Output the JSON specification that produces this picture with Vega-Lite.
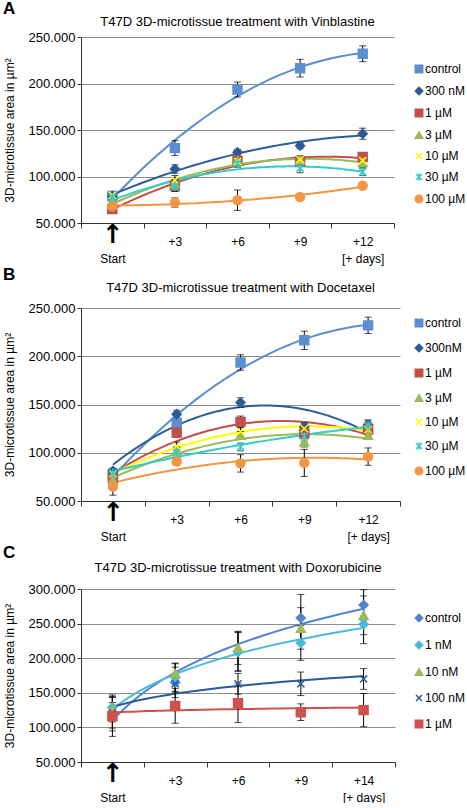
{
  "$schema": "https://vega.github.io/schema/vega-lite/v6.json",
  "padding": {"left": 3, "top": 0, "right": 0, "bottom": 0},
  "spacing": 2,
  "resolve": {"scale": {"fill": "independent", "stroke": "independent", "shape": "independent", "color": "independent"}, "legend": {"fill": "independent", "stroke": "independent", "shape": "independent", "color": "independent"}},
  "config": {
    "font": "Liberation Sans",
    "view": {"stroke": null},
    "axisY": {"grid": true, "gridColor": "#8c8c8c", "domainColor": "#333", "tickColor": "#333", "tickSize": 4, "labelFontSize": 13, "labelColor": "black", "labelPadding": 2, "labelFlush": false, "labelOverlap": false, "titleFontSize": 12, "titleFontWeight": "normal", "titleColor": "black", "titlePadding": 12},
    "legend": {"labelFont": "Liberation Sans", "labelFontSize": 12, "labelColor": "black", "symbolStrokeWidth": 1.5, "symbolSize": 55, "labelOffset": 0}
  },
  "datasets": {
    "A": [
      {"x": 1, "series": "control", "y": 79000, "lo": 74000, "hi": 84000},
      {"x": 2, "series": "control", "y": 130500, "lo": 122500, "hi": 138500},
      {"x": 3, "series": "control", "y": 193500, "lo": 185500, "hi": 201500},
      {"x": 4, "series": "control", "y": 216500, "lo": 207000, "hi": 226000},
      {"x": 5, "series": "control", "y": 232000, "lo": 223500, "hi": 240500},
      {"x": 1, "series": "300 nM", "y": 79000, "lo": 75000, "hi": 83000},
      {"x": 2, "series": "300 nM", "y": 108000, "lo": 103500, "hi": 112500},
      {"x": 3, "series": "300 nM", "y": 126000, "lo": 123000, "hi": 129000},
      {"x": 4, "series": "300 nM", "y": 133000, "lo": 130000, "hi": 136000},
      {"x": 5, "series": "300 nM", "y": 146000, "lo": 140000, "hi": 152000},
      {"x": 1, "series": "1 µM", "y": 65000, "lo": 62000, "hi": 68000},
      {"x": 2, "series": "1 µM", "y": 90000, "lo": 84000, "hi": 96000},
      {"x": 3, "series": "1 µM", "y": 117000, "lo": 113000, "hi": 121000},
      {"x": 4, "series": "1 µM", "y": 116000, "lo": 112000, "hi": 120000},
      {"x": 5, "series": "1 µM", "y": 121000, "lo": 117000, "hi": 125000},
      {"x": 1, "series": "3 µM", "y": 72000, "lo": 68000, "hi": 76000},
      {"x": 2, "series": "3 µM", "y": 92000, "lo": 87000, "hi": 97000},
      {"x": 3, "series": "3 µM", "y": 117000, "lo": 113000, "hi": 121000},
      {"x": 4, "series": "3 µM", "y": 118000, "lo": 114000, "hi": 122000},
      {"x": 5, "series": "3 µM", "y": 115000, "lo": 110000, "hi": 120000},
      {"x": 1, "series": "10 µM", "y": 80000, "lo": 76000, "hi": 84000},
      {"x": 2, "series": "10 µM", "y": 96000, "lo": 91000, "hi": 101000},
      {"x": 3, "series": "10 µM", "y": 116000, "lo": 112000, "hi": 120000},
      {"x": 4, "series": "10 µM", "y": 118000, "lo": 114000, "hi": 122000},
      {"x": 5, "series": "10 µM", "y": 117000, "lo": 112000, "hi": 122000},
      {"x": 1, "series": "30 µM", "y": 77000, "lo": 73000, "hi": 81000},
      {"x": 2, "series": "30 µM", "y": 89000, "lo": 84000, "hi": 94000},
      {"x": 3, "series": "30 µM", "y": 114000, "lo": 110000, "hi": 118000},
      {"x": 4, "series": "30 µM", "y": 109000, "lo": 104000, "hi": 114000},
      {"x": 5, "series": "30 µM", "y": 105000, "lo": 101000, "hi": 109000},
      {"x": 1, "series": "100 µM", "y": 68000, "lo": 64000, "hi": 72000},
      {"x": 2, "series": "100 µM", "y": 72000, "lo": 67000, "hi": 77000},
      {"x": 3, "series": "100 µM", "y": 74500, "lo": 63500, "hi": 85500},
      {"x": 4, "series": "100 µM", "y": 78000, "lo": 75000, "hi": 81000},
      {"x": 5, "series": "100 µM", "y": 90000, "lo": 88000, "hi": 92000}
    ],
    "B": [
      {"x": 1, "series": "control", "y": 78000, "lo": 73000, "hi": 83000},
      {"x": 2, "series": "control", "y": 131000, "lo": 123000, "hi": 139000},
      {"x": 3, "series": "control", "y": 193500, "lo": 185500, "hi": 201500},
      {"x": 4, "series": "control", "y": 216500, "lo": 207000, "hi": 226000},
      {"x": 5, "series": "control", "y": 232000, "lo": 223500, "hi": 240500},
      {"x": 1, "series": "300nM", "y": 81000, "lo": 78000, "hi": 84000},
      {"x": 2, "series": "300nM", "y": 140000, "lo": 136000, "hi": 144000},
      {"x": 3, "series": "300nM", "y": 152000, "lo": 147000, "hi": 157000},
      {"x": 4, "series": "300nM", "y": 127000, "lo": 123000, "hi": 131000},
      {"x": 5, "series": "300nM", "y": 129000, "lo": 124000, "hi": 134000},
      {"x": 1, "series": "1 µM", "y": 74000, "lo": 70000, "hi": 78000},
      {"x": 2, "series": "1 µM", "y": 121000, "lo": 116000, "hi": 126000},
      {"x": 3, "series": "1 µM", "y": 132000, "lo": 126000, "hi": 138000},
      {"x": 4, "series": "1 µM", "y": 120000, "lo": 115000, "hi": 125000},
      {"x": 5, "series": "1 µM", "y": 124000, "lo": 119000, "hi": 129000},
      {"x": 1, "series": "3 µM", "y": 72000, "lo": 68000, "hi": 76000},
      {"x": 2, "series": "3 µM", "y": 102000, "lo": 98000, "hi": 106000},
      {"x": 3, "series": "3 µM", "y": 118000, "lo": 114000, "hi": 122000},
      {"x": 4, "series": "3 µM", "y": 111000, "lo": 106000, "hi": 116000},
      {"x": 5, "series": "3 µM", "y": 118000, "lo": 114000, "hi": 122000},
      {"x": 1, "series": "10 µM", "y": 78000, "lo": 74000, "hi": 82000},
      {"x": 2, "series": "10 µM", "y": 107000, "lo": 103000, "hi": 111000},
      {"x": 3, "series": "10 µM", "y": 122000, "lo": 118000, "hi": 126000},
      {"x": 4, "series": "10 µM", "y": 125000, "lo": 120000, "hi": 130000},
      {"x": 5, "series": "10 µM", "y": 124000, "lo": 120000, "hi": 128000},
      {"x": 1, "series": "30 µM", "y": 79000, "lo": 75000, "hi": 83000},
      {"x": 2, "series": "30 µM", "y": 100000, "lo": 95000, "hi": 105000},
      {"x": 3, "series": "30 µM", "y": 106000, "lo": 102000, "hi": 110000},
      {"x": 4, "series": "30 µM", "y": 117000, "lo": 112000, "hi": 122000},
      {"x": 5, "series": "30 µM", "y": 128000, "lo": 123000, "hi": 133000},
      {"x": 1, "series": "100 µM", "y": 65000, "lo": 56000, "hi": 74000},
      {"x": 2, "series": "100 µM", "y": 91000, "lo": 87000, "hi": 95000},
      {"x": 3, "series": "100 µM", "y": 89000, "lo": 80000, "hi": 98000},
      {"x": 4, "series": "100 µM", "y": 89500, "lo": 75500, "hi": 103500},
      {"x": 5, "series": "100 µM", "y": 96000, "lo": 87000, "hi": 105000}
    ],
    "C": [
      {"x": 1, "series": "control", "y": 120000, "lo": 95000, "hi": 145000},
      {"x": 2, "series": "control", "y": 165000, "lo": 143000, "hi": 187000},
      {"x": 3, "series": "control", "y": 210000, "lo": 182000, "hi": 238000},
      {"x": 4, "series": "control", "y": 258000, "lo": 224000, "hi": 292000},
      {"x": 5, "series": "control", "y": 277000, "lo": 255000, "hi": 299000},
      {"x": 1, "series": "1 nM", "y": 129000, "lo": 111000, "hi": 147000},
      {"x": 2, "series": "1 nM", "y": 172000, "lo": 152000, "hi": 192000},
      {"x": 3, "series": "1 nM", "y": 209000, "lo": 181000, "hi": 237000},
      {"x": 4, "series": "1 nM", "y": 222000, "lo": 197000, "hi": 247000},
      {"x": 5, "series": "1 nM", "y": 249000, "lo": 221000, "hi": 277000},
      {"x": 1, "series": "10 nM", "y": 126000, "lo": 108000, "hi": 144000},
      {"x": 2, "series": "10 nM", "y": 178000, "lo": 163000, "hi": 193000},
      {"x": 3, "series": "10 nM", "y": 215000, "lo": 191000, "hi": 239000},
      {"x": 4, "series": "10 nM", "y": 243000, "lo": 213000, "hi": 273000},
      {"x": 5, "series": "10 nM", "y": 262000, "lo": 234000, "hi": 290000},
      {"x": 1, "series": "100 nM", "y": 121000, "lo": 99000, "hi": 143000},
      {"x": 2, "series": "100 nM", "y": 163000, "lo": 151000, "hi": 175000},
      {"x": 3, "series": "100 nM", "y": 163000, "lo": 148000, "hi": 178000},
      {"x": 4, "series": "100 nM", "y": 163000, "lo": 146000, "hi": 180000},
      {"x": 5, "series": "100 nM", "y": 170000, "lo": 155000, "hi": 185000},
      {"x": 1, "series": "1 µM", "y": 116000, "lo": 87000, "hi": 136000},
      {"x": 2, "series": "1 µM", "y": 131000, "lo": 106000, "hi": 156000},
      {"x": 3, "series": "1 µM", "y": 135000, "lo": 107000, "hi": 163000},
      {"x": 4, "series": "1 µM", "y": 122000, "lo": 110000, "hi": 134000},
      {"x": 5, "series": "1 µM", "y": 125000, "lo": 101000, "hi": 149000}
    ]
  },
  "vconcat": [
    {
      "title": {"text": "A", "anchor": "start", "frame": "bounds", "fontSize": 17, "fontWeight": "bold", "offset": -2},
      "resolve": {"scale": {"fill": "independent", "stroke": "independent", "shape": "independent", "color": "independent"}, "legend": {"fill": "independent", "stroke": "independent", "shape": "independent", "color": "independent"}},
      "vconcat": [
        {
          "width": 313, "height": 186,
          "title": {"text": "T47D 3D-microtissue treatment with Vinblastine", "fontSize": 13, "fontWeight": "normal", "offset": 2},
          "data": {"name": "A"},
          "resolve": {"axis": {"x": "independent"}},
          "layer": [
            {
              "transform": [{"filter": "datum.series != '10 µM'"}, {"regression": "y", "on": "x", "groupby": ["series"], "method": "poly", "order": 2}],
              "mark": {"type": "line", "strokeWidth": 2},
              "encoding": {
                "x": {"field": "x", "type": "quantitative", "scale": {"domain": [0.5, 5.5], "nice": false, "zero": false},
                  "axis": {"orient": "bottom", "values": [0.5, 1.5, 2.5, 3.5, 4.5, 5.5], "labels": false, "ticks": true, "tickSize": 5, "tickColor": "#333", "domain": true, "domainColor": "#333", "grid": false, "title": null}},
                "y": {"field": "y", "type": "quantitative", "scale": {"domain": [50000, 250000], "nice": false, "zero": false},
                  "axis": {"values": [50000, 100000, 150000, 200000, 250000], "labelExpr": "replace(format(datum.value, ','), ',', '.')", "title": "3D-microtissue area in µm²"}},
                "color": {"field": "series", "type": "nominal", "legend": null,
                  "scale": {"domain": ["100 µM", "30 µM", "10 µM", "3 µM", "1 µM", "300 nM", "control"], "range": ["#F39644", "#33CCCC", "#FFFF00", "#9BBB59", "#C0504D", "#2B5C97", "#5B8FD1"]}}
              }
            },
            {
              "mark": {"type": "rule", "color": "black", "strokeWidth": 1},
              "encoding": {
                "x": {"field": "x", "type": "quantitative",
                  "axis": {"orient": "bottom", "values": [1, 2, 3, 4, 5], "ticks": false, "domain": false, "grid": false, "title": null, "labelExpr": "datum.value == 1 ? ['', 'Start'] : datum.value == 2 ? '+3' : datum.value == 3 ? '+6' : datum.value == 4 ? '+9' : ['+12', '[+ days]']", "labelFontSize": 12, "labelLineHeight": 17, "labelPadding": 13, "labelOverlap": false, "labelFlush": false, "labelColor": "black"}},
                "y": {"field": "lo", "type": "quantitative", "axis": {"values": [50000, 100000, 150000, 200000, 250000], "labelExpr": "replace(format(datum.value, ','), ',', '.')", "title": "3D-microtissue area in µm²"}},
                "y2": {"field": "hi"}
              }
            },
            {
              "mark": {"type": "tick", "color": "black", "orient": "horizontal", "size": 7, "thickness": 1},
              "encoding": {"x": {"field": "x", "type": "quantitative", "axis": null}, "y": {"field": "lo", "type": "quantitative", "axis": {"values": [50000, 100000, 150000, 200000, 250000], "labelExpr": "replace(format(datum.value, ','), ',', '.')", "title": "3D-microtissue area in µm²"}}}
            },
            {
              "mark": {"type": "tick", "color": "black", "orient": "horizontal", "size": 7, "thickness": 1},
              "encoding": {"x": {"field": "x", "type": "quantitative", "axis": null}, "y": {"field": "hi", "type": "quantitative", "axis": {"values": [50000, 100000, 150000, 200000, 250000], "labelExpr": "replace(format(datum.value, ','), ',', '.')", "title": "3D-microtissue area in µm²"}}}
            },
            {
              "mark": {"type": "point", "filled": true, "opacity": 1, "strokeWidth": 1.5, "size": 80},
              "encoding": {
                "x": {"field": "x", "type": "quantitative",
                  "axis": {"orient": "bottom", "values": [1], "labelExpr": "'↑'", "ticks": false, "domain": false, "grid": false, "title": null, "labelFontSize": 26, "labelFont": "DejaVu Sans", "labelFontWeight": "bold", "labelPadding": -2, "labelColor": "black", "labelFlush": false}},
                "y": {"field": "y", "type": "quantitative", "axis": {"values": [50000, 100000, 150000, 200000, 250000], "labelExpr": "replace(format(datum.value, ','), ',', '.')", "title": "3D-microtissue area in µm²"}},
                "fill": {"field": "series", "type": "nominal",
                  "scale": {"domain": ["control", "300 nM", "1 µM", "3 µM", "10 µM", "30 µM", "100 µM"], "range": ["#5B8FD1", "#2B5C97", "#C0504D", "#9BBB59", "#FFFF00", "#33CCCC", "#F39644"]},
                  "legend": {"orient": "none", "legendX": 332, "legendY": 26, "title": null, "rowPadding": 8}},
                "stroke": {"field": "series", "type": "nominal",
                  "scale": {"domain": ["control", "300 nM", "1 µM", "3 µM", "10 µM", "30 µM", "100 µM"], "range": ["#5B8FD1", "#2B5C97", "#C0504D", "#9BBB59", "#FFFF00", "#33CCCC", "#F39644"]},
                  "legend": {"orient": "none", "legendX": 332, "legendY": 26, "title": null, "rowPadding": 8}},
                "shape": {"field": "series", "type": "nominal",
                  "scale": {"domain": ["control", "300 nM", "1 µM", "3 µM", "10 µM", "30 µM", "100 µM"], "range": ["square", "diamond", "square", "triangle-up", "M-0.8,-0.8L0.8,0.8M-0.8,0.8L0.8,-0.8", "M-0.8,-0.8L0.8,0.8M-0.8,0.8L0.8,-0.8M0,-1L0,1", "circle"]},
                  "legend": {"orient": "none", "legendX": 332, "legendY": 26, "title": null, "rowPadding": 8}}
              }
            }
          ]
        }
      ]
    },
    {
      "title": {"text": "B", "anchor": "start", "frame": "bounds", "fontSize": 17, "fontWeight": "bold", "offset": -2},
      "resolve": {"scale": {"fill": "independent", "stroke": "independent", "shape": "independent", "color": "independent"}, "legend": {"fill": "independent", "stroke": "independent", "shape": "independent", "color": "independent"}},
      "vconcat": [
        {
          "width": 319, "height": 193,
          "title": {"text": "T47D 3D-microtissue treatment with Docetaxel", "fontSize": 13, "fontWeight": "normal", "offset": 7},
          "data": {"name": "B"},
          "resolve": {"axis": {"x": "independent"}},
          "layer": [
            {
              "transform": [{"regression": "y", "on": "x", "groupby": ["series"], "method": "poly", "order": 2}],
              "mark": {"type": "line", "strokeWidth": 2},
              "encoding": {
                "x": {"field": "x", "type": "quantitative", "scale": {"domain": [0.5, 5.5], "nice": false, "zero": false},
                  "axis": {"orient": "bottom", "values": [0.5, 1.5, 2.5, 3.5, 4.5, 5.5], "labels": false, "ticks": true, "tickSize": 5, "tickColor": "#333", "domain": true, "domainColor": "#333", "grid": false, "title": null}},
                "y": {"field": "y", "type": "quantitative", "scale": {"domain": [50000, 250000], "nice": false, "zero": false},
                  "axis": {"values": [50000, 100000, 150000, 200000, 250000], "labelExpr": "replace(format(datum.value, ','), ',', '.')", "title": "3D-microtissue area in µm²"}},
                "color": {"field": "series", "type": "nominal", "legend": null,
                  "scale": {"domain": ["100 µM", "30 µM", "10 µM", "3 µM", "1 µM", "300nM", "control"], "range": ["#F39644", "#33CCCC", "#FFFF00", "#9BBB59", "#C0504D", "#2B5C97", "#5B8FD1"]}}
              }
            },
            {
              "mark": {"type": "rule", "color": "black", "strokeWidth": 1},
              "encoding": {
                "x": {"field": "x", "type": "quantitative",
                  "axis": {"orient": "bottom", "values": [1, 2, 3, 4, 5], "ticks": false, "domain": false, "grid": false, "title": null, "labelExpr": "datum.value == 1 ? ['', 'Start'] : datum.value == 2 ? '+3' : datum.value == 3 ? '+6' : datum.value == 4 ? '+9' : ['+12', '[+ days]']", "labelFontSize": 12, "labelLineHeight": 17, "labelPadding": 13, "labelOverlap": false, "labelFlush": false, "labelColor": "black"}},
                "y": {"field": "lo", "type": "quantitative", "axis": {"values": [50000, 100000, 150000, 200000, 250000], "labelExpr": "replace(format(datum.value, ','), ',', '.')", "title": "3D-microtissue area in µm²"}},
                "y2": {"field": "hi"}
              }
            },
            {
              "mark": {"type": "tick", "color": "black", "orient": "horizontal", "size": 7, "thickness": 1},
              "encoding": {"x": {"field": "x", "type": "quantitative", "axis": null}, "y": {"field": "lo", "type": "quantitative", "axis": {"values": [50000, 100000, 150000, 200000, 250000], "labelExpr": "replace(format(datum.value, ','), ',', '.')", "title": "3D-microtissue area in µm²"}}}
            },
            {
              "mark": {"type": "tick", "color": "black", "orient": "horizontal", "size": 7, "thickness": 1},
              "encoding": {"x": {"field": "x", "type": "quantitative", "axis": null}, "y": {"field": "hi", "type": "quantitative", "axis": {"values": [50000, 100000, 150000, 200000, 250000], "labelExpr": "replace(format(datum.value, ','), ',', '.')", "title": "3D-microtissue area in µm²"}}}
            },
            {
              "mark": {"type": "point", "filled": true, "opacity": 1, "strokeWidth": 1.5, "size": 80},
              "encoding": {
                "x": {"field": "x", "type": "quantitative",
                  "axis": {"orient": "bottom", "values": [1], "labelExpr": "'↑'", "ticks": false, "domain": false, "grid": false, "title": null, "labelFontSize": 26, "labelFont": "DejaVu Sans", "labelFontWeight": "bold", "labelPadding": -2, "labelColor": "black", "labelFlush": false}},
                "y": {"field": "y", "type": "quantitative", "axis": {"values": [50000, 100000, 150000, 200000, 250000], "labelExpr": "replace(format(datum.value, ','), ',', '.')", "title": "3D-microtissue area in µm²"}},
                "fill": {"field": "series", "type": "nominal",
                  "scale": {"domain": ["control", "300nM", "1 µM", "3 µM", "10 µM", "30 µM", "100 µM"], "range": ["#5B8FD1", "#2B5C97", "#C0504D", "#9BBB59", "#FFFF00", "#33CCCC", "#F39644"]},
                  "legend": {"orient": "none", "legendX": 332, "legendY": 9, "title": null, "rowPadding": 11}},
                "stroke": {"field": "series", "type": "nominal",
                  "scale": {"domain": ["control", "300nM", "1 µM", "3 µM", "10 µM", "30 µM", "100 µM"], "range": ["#5B8FD1", "#2B5C97", "#C0504D", "#9BBB59", "#FFFF00", "#33CCCC", "#F39644"]},
                  "legend": {"orient": "none", "legendX": 332, "legendY": 9, "title": null, "rowPadding": 11}},
                "shape": {"field": "series", "type": "nominal",
                  "scale": {"domain": ["control", "300nM", "1 µM", "3 µM", "10 µM", "30 µM", "100 µM"], "range": ["square", "diamond", "square", "triangle-up", "M-0.8,-0.8L0.8,0.8M-0.8,0.8L0.8,-0.8", "M-0.8,-0.8L0.8,0.8M-0.8,0.8L0.8,-0.8M0,-1L0,1", "circle"]},
                  "legend": {"orient": "none", "legendX": 332, "legendY": 9, "title": null, "rowPadding": 11}}
              }
            }
          ]
        }
      ]
    },
    {
      "title": {"text": "C", "anchor": "start", "frame": "bounds", "fontSize": 17, "fontWeight": "bold", "offset": 0},
      "resolve": {"scale": {"fill": "independent", "stroke": "independent", "shape": "independent", "color": "independent"}, "legend": {"fill": "independent", "stroke": "independent", "shape": "independent", "color": "independent"}},
      "vconcat": [
        {
          "width": 314, "height": 173,
          "title": {"text": "T47D 3D-microtissue treatment with Doxorubicine", "fontSize": 13, "fontWeight": "normal", "offset": 8},
          "data": {"name": "C"},
          "resolve": {"axis": {"x": "independent"}},
          "layer": [
            {
              "transform": [{"filter": "datum.series != '10 nM'"}, {"regression": "y", "on": "x", "groupby": ["series"], "method": "log"}],
              "mark": {"type": "line", "strokeWidth": 2},
              "encoding": {
                "x": {"field": "x", "type": "quantitative", "scale": {"domain": [0.5, 5.5], "nice": false, "zero": false},
                  "axis": {"orient": "bottom", "values": [0.5, 1.5, 2.5, 3.5, 4.5, 5.5], "labels": false, "ticks": true, "tickSize": 5, "tickColor": "#333", "domain": true, "domainColor": "#333", "grid": false, "title": null}},
                "y": {"field": "y", "type": "quantitative", "scale": {"domain": [50000, 300000], "nice": false, "zero": false},
                  "axis": {"values": [50000, 100000, 150000, 200000, 250000, 300000], "labelExpr": "replace(format(datum.value, ','), ',', '.')", "title": "3D-microtissue area in µm²"}},
                "color": {"field": "series", "type": "nominal", "legend": null,
                  "scale": {"domain": ["1 µM", "100 nM", "10 nM", "1 nM", "control"], "range": ["#D0504D", "#2B5C97", "#9BBB59", "#4BBAD8", "#5084CC"]}}
              }
            },
            {
              "mark": {"type": "rule", "color": "black", "strokeWidth": 1},
              "encoding": {
                "x": {"field": "x", "type": "quantitative",
                  "axis": {"orient": "bottom", "values": [1, 2, 3, 4, 5], "ticks": false, "domain": false, "grid": false, "title": null, "labelExpr": "datum.value == 1 ? ['', 'Start'] : datum.value == 2 ? '+3' : datum.value == 3 ? '+6' : datum.value == 4 ? '+9' : ['+14', '[+ days]']", "labelFontSize": 12, "labelLineHeight": 17, "labelPadding": 13, "labelOverlap": false, "labelFlush": false, "labelColor": "black"}},
                "y": {"field": "lo", "type": "quantitative", "axis": {"values": [50000, 100000, 150000, 200000, 250000, 300000], "labelExpr": "replace(format(datum.value, ','), ',', '.')", "title": "3D-microtissue area in µm²"}},
                "y2": {"field": "hi"}
              }
            },
            {
              "mark": {"type": "tick", "color": "black", "orient": "horizontal", "size": 7, "thickness": 1},
              "encoding": {"x": {"field": "x", "type": "quantitative", "axis": null}, "y": {"field": "lo", "type": "quantitative", "axis": {"values": [50000, 100000, 150000, 200000, 250000, 300000], "labelExpr": "replace(format(datum.value, ','), ',', '.')", "title": "3D-microtissue area in µm²"}}}
            },
            {
              "mark": {"type": "tick", "color": "black", "orient": "horizontal", "size": 7, "thickness": 1},
              "encoding": {"x": {"field": "x", "type": "quantitative", "axis": null}, "y": {"field": "hi", "type": "quantitative", "axis": {"values": [50000, 100000, 150000, 200000, 250000, 300000], "labelExpr": "replace(format(datum.value, ','), ',', '.')", "title": "3D-microtissue area in µm²"}}}
            },
            {
              "mark": {"type": "point", "filled": true, "opacity": 1, "strokeWidth": 1.5, "size": 80},
              "encoding": {
                "x": {"field": "x", "type": "quantitative",
                  "axis": {"orient": "bottom", "values": [1], "labelExpr": "'↑'", "ticks": false, "domain": false, "grid": false, "title": null, "labelFontSize": 26, "labelFont": "DejaVu Sans", "labelFontWeight": "bold", "labelPadding": -2, "labelColor": "black", "labelFlush": false}},
                "y": {"field": "y", "type": "quantitative", "axis": {"values": [50000, 100000, 150000, 200000, 250000, 300000], "labelExpr": "replace(format(datum.value, ','), ',', '.')", "title": "3D-microtissue area in µm²"}},
                "fill": {"field": "series", "type": "nominal",
                  "scale": {"domain": ["control", "1 nM", "10 nM", "100 nM", "1 µM"], "range": ["#5084CC", "#4BBAD8", "#9BBB59", "#2B5C97", "#D0504D"]},
                  "legend": {"orient": "none", "legendX": 332, "legendY": 23, "title": null, "rowPadding": 13}},
                "stroke": {"field": "series", "type": "nominal",
                  "scale": {"domain": ["control", "1 nM", "10 nM", "100 nM", "1 µM"], "range": ["#5084CC", "#4BBAD8", "#9BBB59", "#2B5C97", "#D0504D"]},
                  "legend": {"orient": "none", "legendX": 332, "legendY": 23, "title": null, "rowPadding": 13}},
                "shape": {"field": "series", "type": "nominal",
                  "scale": {"domain": ["control", "1 nM", "10 nM", "100 nM", "1 µM"], "range": ["diamond", "diamond", "triangle-up", "M-0.8,-0.8L0.8,0.8M-0.8,0.8L0.8,-0.8", "square"]},
                  "legend": {"orient": "none", "legendX": 332, "legendY": 23, "title": null, "rowPadding": 13}}
              }
            }
          ]
        }
      ]
    }
  ]
}
